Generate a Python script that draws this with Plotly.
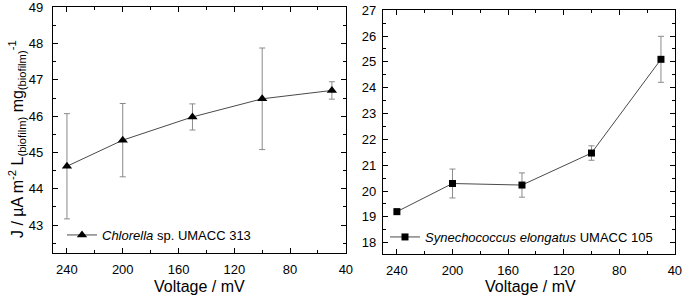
import plotly.graph_objects as go

voltage = [240, 200, 150, 100, 50]
chlorella_j = [44.62, 45.34, 45.98, 46.48, 46.71]
chlorella_err = [1.45, 1.01, 0.36, 1.40, 0.24]
synecho_j = [19.20, 20.29, 20.23, 21.47, 25.10]
synecho_err = [0.10, 0.56, 0.47, 0.28, 0.89]
left_yticks = [43, 44, 45, 46, 47, 48, 49]
right_yticks = [18, 19, 20, 21, 22, 23, 24, 25, 26, 27]
xticks = [240, 200, 160, 120, 80, 40]

W, H = 685, 304
FONT = "Liberation Sans, Arial, sans-serif"
LINE_C = "#4a4a4a"
ERR_C = "#8a8a8a"

fig = go.Figure()
fig.add_trace(go.Scatter(
    x=voltage, y=chlorella_j, mode="lines+markers",
    name="<i>Chlorella</i> sp. UMACC 313",
    line=dict(color=LINE_C, width=1),
    marker=dict(symbol="triangle-up", size=9, color="black"),
    error_y=dict(type="data", array=chlorella_err, color=ERR_C, thickness=1, width=3),
    xaxis="x", yaxis="y", legend="legend",
))
fig.add_trace(go.Scatter(
    x=voltage, y=synecho_j, mode="lines+markers",
    name="<i>Synechococcus elongatus</i> UMACC 105",
    line=dict(color=LINE_C, width=1),
    marker=dict(symbol="square", size=7, color="black"),
    error_y=dict(type="data", array=synecho_err, color=ERR_C, thickness=1, width=3),
    xaxis="x2", yaxis="y2", legend="legend2",
))

def px_x(p):
    return p / W

def px_y(p):
    return (H - p) / H

common = dict(
    showline=True, linecolor="black", linewidth=1.2, mirror="ticks",
    ticks="inside", ticklen=5, tickwidth=1, tickcolor="black",
    showgrid=False, zeroline=False, automargin=False,
    ticklabeloverflow="allow",
    tickfont=dict(family=FONT, size=13, color="black"),
)

fig.update_layout(
    width=W, height=H, template="none",
    paper_bgcolor="white", plot_bgcolor="white",
    margin=dict(l=0, r=0, t=0, b=0),
    font=dict(family=FONT, color="black"),
    xaxis=dict(domain=[px_x(53), px_x(346)], range=[250, 39.9], tickvals=xticks,
               minor=dict(dtick=20, ticks="inside", ticklen=3, tickcolor="black"),
               anchor="y", ticklabelstandoff=4, **common),
    yaxis=dict(domain=[px_y(253), px_y(7)], range=[42.23, 49.01], tickvals=left_yticks,
               minor=dict(dtick=0.5, ticks="inside", ticklen=3, tickcolor="black"),
               anchor="x", ticklabelstandoff=6, **common),
    xaxis2=dict(domain=[px_x(383), px_x(675)], range=[250, 39.9], tickvals=xticks,
                minor=dict(dtick=20, ticks="inside", ticklen=3, tickcolor="black"),
                anchor="y2", ticklabelstandoff=4, **common),
    yaxis2=dict(domain=[px_y(254), px_y(10)], range=[17.56, 27.01], tickvals=right_yticks,
                minor=dict(dtick=0.5, ticks="inside", ticklen=3, tickcolor="black"),
                anchor="x2", ticklabelstandoff=3, **common),
    legend=dict(x=px_x(62), y=px_y(235), xanchor="left", yanchor="middle",
                bgcolor="rgba(0,0,0,0)", font=dict(family=FONT, size=13)),
    legend2=dict(x=px_x(385), y=px_y(237), xanchor="left", yanchor="middle",
                 bgcolor="rgba(0,0,0,0)", font=dict(family=FONT, size=13)),
    showlegend=True,
)

fig.add_annotation(text="Voltage / mV", x=px_x(199.5), y=px_y(286), xref="paper", yref="paper",
                   xanchor="center", yanchor="middle",
                   showarrow=False, font=dict(family=FONT, size=16))
fig.add_annotation(text="Voltage / mV", x=px_x(530), y=px_y(286), xref="paper", yref="paper",
                   xanchor="center", yanchor="middle",
                   showarrow=False, font=dict(family=FONT, size=16))
fig.add_annotation(text="J / µA m<sup>-2</sup> L<sub>(biofilm)</sub> mg<sub>(biofilm)</sub><sup>-1</sup>",
                   x=px_x(17), y=px_y(139), xref="paper", yref="paper", textangle=-90,
                   xanchor="center", yanchor="middle",
                   showarrow=False, font=dict(family=FONT, size=16))

fig.write_html("out.html", post_script="document.body.style.margin='0';",
               config={"displayModeBar": False})
